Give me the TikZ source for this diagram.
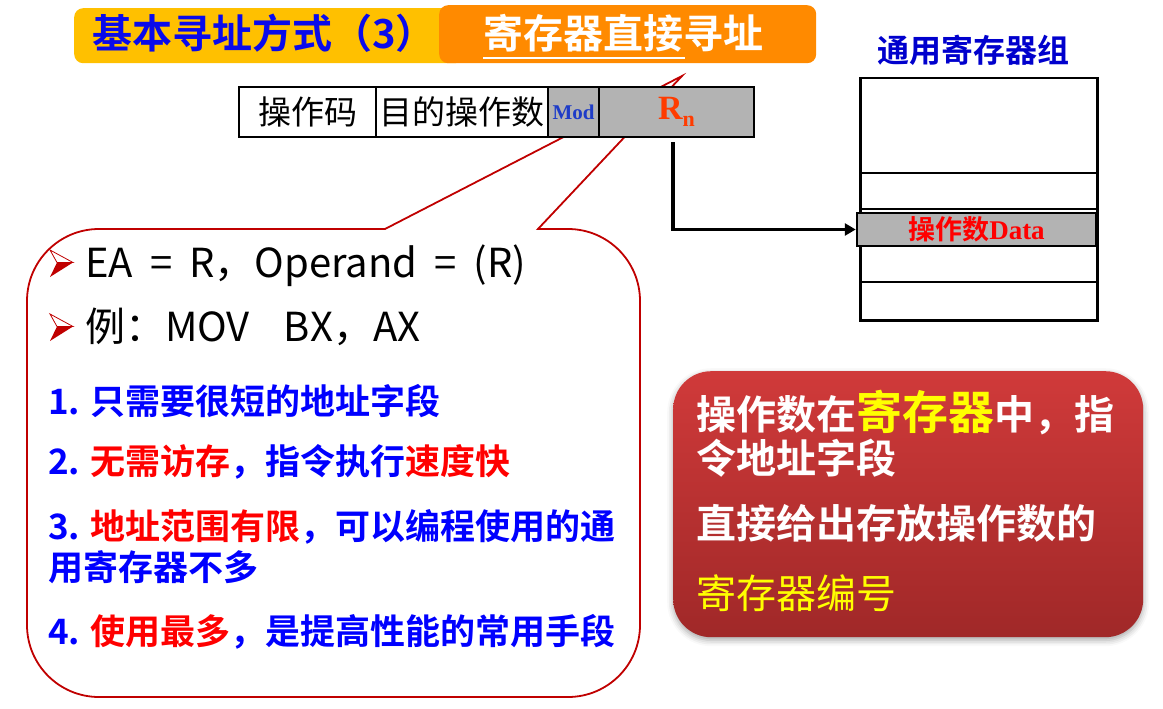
\documentclass[tikz,border=0pt]{standalone}
\usepackage{fontspec}
\setmainfont{Noto Sans CJK SC}[BoldFont={Noto Sans CJK SC Bold}]
\newfontfamily\widesans{Noto Sans CJK SC}[WordSpace=1.9]
\newfontfamily\tms{Liberation Serif}
\usetikzlibrary{arrows.meta,shadows.blur}

\definecolor{titleyellow}{RGB}{255,192,0}
\definecolor{titleorange}{RGB}{255,138,0}
\definecolor{titleblue}{RGB}{10,10,235}
\definecolor{listblue}{RGB}{0,0,255}
\definecolor{listred}{RGB}{255,0,0}
\definecolor{calloutred}{RGB}{192,0,0}
\definecolor{cellgray}{RGB}{179,179,179}
\definecolor{modblue}{RGB}{30,60,200}
\definecolor{rnred}{RGB}{255,60,0}
\definecolor{regblue}{RGB}{0,0,205}
\definecolor{boxtop}{RGB}{208,58,58}
\definecolor{boxbottom}{RGB}{160,40,40}
\definecolor{hiyellow}{RGB}{255,255,0}

\newcommand{\fsz}[1]{\fontsize{#1}{#1}\selectfont}

\tikzset{
  cell/.style={draw=black, line width=2.5pt, inner sep=0pt, minimum height=50pt},
  graycell/.style={cell, fill=cellgray},
  txt/.style={inner sep=0pt, anchor=base west},
  listline/.style={txt, font=\fsz{35}\bfseries, text=listblue},
  bulletline/.style={txt, font=\widesans\fsz{40}, text=black},
  boxline/.style={txt, font=\fsz{40}\bfseries, text=white},
  pics/arrowbullet/.style={code={
    \fill[white, draw=calloutred, line width=0.8pt] (0,-12.5) -- (23,0) -- (7,0) -- cycle;
    \fill[calloutred] (7,0) -- (23,0) -- (0,14.5) -- cycle;
  }}
}

\begin{document}
\begin{tikzpicture}[x=1pt, y=-1pt]
\useasboundingbox (0,0) rectangle (1163,709);

% heading bars
\node[fill=titleyellow, rounded corners=9pt, minimum width=390pt, minimum height=55pt, inner sep=0pt, anchor=north west] (bar1) at (74,8) {};
\node[fill=titleorange, rounded corners=9pt, minimum width=377pt, minimum height=58pt, inner sep=0pt, anchor=north west] (bar2) at (439,5) {};
\node[txt, font=\fsz{40}\bfseries, text=titleblue] (head1) at (92,49) {基本寻址方式（3）};
\node[txt, font=\fsz{40}\bfseries, text=white] (head2) at (483,49) {寄存器直接寻址};
\draw[white, line width=2.5pt] (head2.base west) ++(0,9) -- ++(202,0);

% speech callout with pointer
\draw[calloutred, line width=1.8pt, fill=white]
  (538,229) -- (568,229) arc (90:0:72pt) -- (640,625) arc (0:-90:72pt)
  -- (99,697) arc (270:180:72pt) -- (27,301) arc (180:90:72pt)
  -- (385,229) -- (682,76) -- cycle;

% instruction format
\node[cell, minimum width=137pt] (opc) at (307.5,112) {\fsz{33}操作码};
\node[cell, minimum width=172pt] (dst) at (462,112) {\fsz{33}目的操作数};
\node[graycell, minimum width=51pt] (mod) at (573.5,112) {\tms\bfseries\fsz{21}\textcolor{modblue}{Mod}};
\node[graycell, minimum width=155pt] (rn) at (676.5,112) {\tms\bfseries\fsz{34}\textcolor{rnred}{R\raisebox{-7pt}{\fsz{22}n}}};

% general register file
\node[font=\fsz{32}\bfseries, text=regblue, inner sep=0pt] (regtitle) at (973,50) {通用寄存器组};
\node[draw=black, line width=2.5pt, minimum width=237pt, minimum height=242pt, inner sep=0pt, anchor=north west] (regs) at (859,77) {};
\draw[line width=2.5pt] (859,173) -- (1096,173);
\draw[line width=2.5pt] (859,209) -- (1096,209);
\draw[line width=2.5pt] (859,282) -- (1096,282);
\node[graycell, minimum width=239pt, minimum height=33pt] (data) at (976.5,229.5)
  {\textcolor{listred}{\fsz{27}\bfseries 操作数\tms\bfseries Data}};

% register selection arrow
\coordinate (rnout) at (673,142);
\draw[line width=3.5pt, -{Triangle[length=11pt, width=12pt]}] (rnout) |- (data.west);

% callout contents
\pic at (50,262.5) {arrowbullet};
\node[bulletline] (l1) at (85,277) {EA = R，Operand = (R)};
\pic at (50,326.5) {arrowbullet};
\node[bulletline] (l2) at (85,341) {例：MOV\ \ BX，AX};
\node[listline] (p1) at (48,414) {1. 只需要很短的地址字段};
\node[listline] (p2) at (48,474) {2. \textcolor{listred}{无需访存}，指令执行\textcolor{listred}{速度快}};
\node[listline] (p3) at (48,539) {3. \textcolor{listred}{地址范围有限}，可以编程使用的通};
\node[listline] (p3b) at (48,580) {用寄存器不多};
\node[listline] (p4) at (48,644) {4. \textcolor{listred}{使用最多}，是提高性能的常用手段};

% summary box
\node[rounded corners=38pt, minimum width=470pt, minimum height=266pt, inner sep=0pt,
      top color=boxtop, bottom color=boxbottom, anchor=north west,
      blur shadow={shadow xshift=0pt, shadow yshift=-3pt, shadow blur radius=6pt, shadow opacity=35}] (sumbox) at (673,371) {};
\node[boxline] (s1) at (696,429) {操作数在\textcolor{hiyellow}{\fsz{46}寄存器}中，指};
\node[boxline] (s2) at (696,473) {令地址字段};
\node[boxline] (s3) at (696,538) {直接给出存放操作数的};
\node[txt, font=\fsz{40}, text=hiyellow] (s4) at (696,608) {寄存器编号};
\end{tikzpicture}
\end{document}
